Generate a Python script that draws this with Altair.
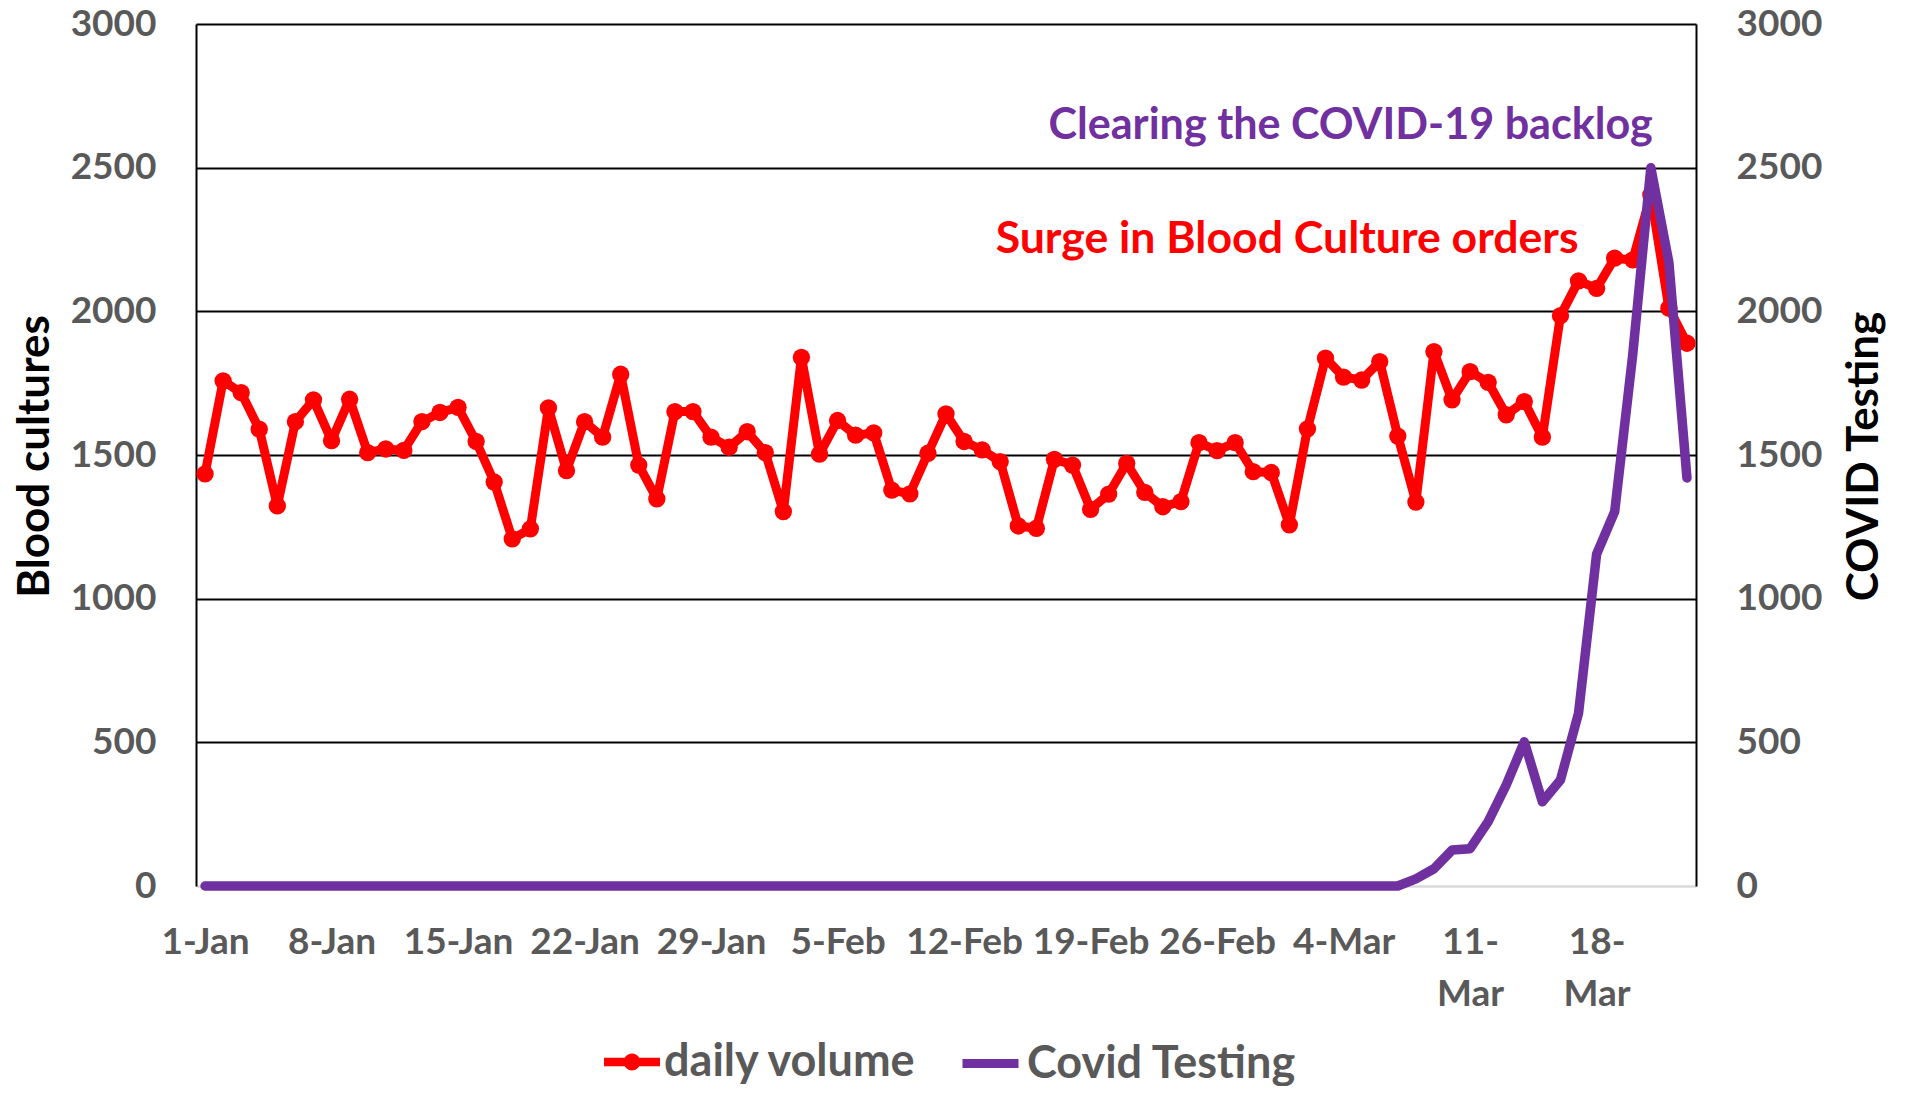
import altair as alt
import pandas as pd

# ---------------- data ----------------
dates = [f"{d.day}-{d.strftime('%b')}" for d in pd.date_range("2020-01-01", "2020-03-23")]

daily_volume = [
    1434, 1758, 1717, 1590, 1323, 1616, 1692, 1550, 1694, 1508,
    1521, 1516, 1616, 1648, 1666, 1547, 1406, 1208, 1243, 1664,
    1446, 1616, 1562, 1781, 1465, 1347, 1651, 1651, 1562, 1527,
    1581, 1508, 1303, 1840, 1503, 1620, 1569, 1577, 1378, 1365,
    1506, 1643, 1547, 1518, 1477, 1253, 1245, 1485, 1465, 1311,
    1364, 1471, 1370, 1320, 1338, 1543, 1515, 1543, 1442, 1439,
    1257, 1591, 1837, 1771, 1761, 1825, 1566, 1336, 1860, 1692,
    1790, 1753, 1640, 1686, 1562, 1985, 2106, 2080, 2185, 2179,
    2405, 2011, 1889,
]

covid_testing = [
    0, 0, 0, 0, 0, 0, 0, 0, 0, 0,
    0, 0, 0, 0, 0, 0, 0, 0, 0, 0,
    0, 0, 0, 0, 0, 0, 0, 0, 0, 0,
    0, 0, 0, 0, 0, 0, 0, 0, 0, 0,
    0, 0, 0, 0, 0, 0, 0, 0, 0, 0,
    0, 0, 0, 0, 0, 0, 0, 0, 0, 0,
    0, 0, 0, 0, 0, 0, 0, 25, 60, 125,
    130, 224, 352, 502, 293, 369, 601, 1155, 1303, 1850,
    2500, 2170, 1420,
]

tick_labels = ["1-Jan", "8-Jan", "15-Jan", "22-Jan", "29-Jan", "5-Feb",
               "12-Feb", "19-Feb", "26-Feb", "4-Mar", "11-Mar", "18-Mar"]
wrapped_labels = ["11-Mar", "18-Mar"]
y_ticks = [0, 500, 1000, 1500, 2000, 2500, 3000]

series_names = ["daily volume", "Covid Testing"]
series_colors = ["#FF0000", "#7030A0"]

annot_text = ["Surge in Blood Culture orders", "Clearing the COVID-19 backlog"]
annot_x = ["17-Mar", "21-Mar"]
annot_y = [2250, 2644]
annot_color = ["#FF0000", "#7030A0"]

df = pd.DataFrame({
    "date": dates,
    "volume": daily_volume,
    "covid": covid_testing,
    "s1": series_names[0],
    "s2": series_names[1],
})
ann = pd.DataFrame({"text": annot_text, "date": annot_x, "y": annot_y, "c": annot_color})

FONT = "Lato"
GRAY = "#595959"
YDOM = [0, 3000]

wrap_list = "[" + ",".join(f"'{w}'" for w in wrapped_labels) + "]"
label_expr = (
    f"indexof({wrap_list}, datum.label) >= 0 ? "
    "[slice(datum.label, 0, indexof(datum.label, '-') + 1), slice(datum.label, indexof(datum.label, '-') + 1)] "
    ": datum.label"
)

x_enc = alt.X(
    "date:O",
    scale=alt.Scale(type="point", padding=0.5, domain=dates),
    axis=alt.Axis(
        values=tick_labels, labelExpr=label_expr, labelAngle=0, labelOverlap=False,
        labelFont=FONT, labelFontSize=37, labelFontWeight="bold", labelColor=GRAY,
        labelPadding=38, labelLineHeight=52, labelBaseline="top",
        ticks=False, grid=False, domainColor="#D9D9D9", domainWidth=2, title=None,
    ),
)

left_axis = alt.Axis(
    values=y_ticks, format="d", grid=True,
    gridColor={"condition": {"test": "datum.value === 0", "value": "#D9D9D9"}, "value": "#000000"},
    gridWidth=2, ticks=False, domainColor="#000000", domainWidth=2,
    labelFont=FONT, labelFontSize=37, labelFontWeight="bold", labelColor=GRAY, labelPadding=40,
    title="Blood cultures", titleFont=FONT, titleFontSize=44, titleFontWeight="bold",
    titleColor="#000000", titleAngle=270, titleX=-161, titleY=432,
    titleAlign="center", titleBaseline="middle",
)
right_axis = alt.Axis(
    orient="right", values=y_ticks, format="d", grid=False, ticks=False,
    domainColor="#000000", domainWidth=2,
    labelFont=FONT, labelFontSize=37, labelFontWeight="bold", labelColor=GRAY, labelPadding=40,
    title="COVID Testing", titleFont=FONT, titleFontSize=44, titleFontWeight="bold",
    titleColor="#000000", titleAngle=270, titleX=168, titleY=432,
    titleAlign="center", titleBaseline="middle",
)

legend_common = dict(
    title=None, labelFont=FONT, labelFontSize=45, labelFontWeight="bold",
    labelColor=GRAY, labelOffset=4, labelLimit=0, padding=0, orient="none",
    symbolSize=3136,
)
dot_path = ("M-1,-0.15 L1,-0.15 L1,0.15 L-1,0.15 Z "
            "M-0.3,0 A0.3,0.3 0 1,1 0.3,0 A0.3,0.3 0 1,1 -0.3,0 Z")

y_left = alt.Y("volume:Q", scale=alt.Scale(domain=YDOM, nice=False), axis=left_axis)
red_color_scale = alt.Scale(domain=[series_names[0]], range=[series_colors[0]])

red_line = alt.Chart(df).mark_line(strokeWidth=9, strokeJoin="round", strokeCap="round").encode(
    x=x_enc,
    y=y_left,
    color=alt.Color("s1:N", scale=red_color_scale, legend=None),
)
red_pts = alt.Chart(df).mark_circle(size=300, opacity=1).encode(
    x=x_enc,
    y=alt.Y("volume:Q", scale=alt.Scale(domain=YDOM, nice=False), axis=None),
    color=alt.Color("s1:N", scale=red_color_scale,
                    legend=alt.Legend(symbolType=dot_path, symbolStrokeWidth=0,
                                      legendX=408, legendY=1010, **legend_common)),
)
purple_line = alt.Chart(df).mark_line(strokeWidth=9.5, strokeJoin="round", strokeCap="round").encode(
    x=x_enc,
    y=alt.Y("covid:Q", scale=alt.Scale(domain=YDOM, nice=False), axis=right_axis),
    color=alt.Color("s2:N", scale=alt.Scale(domain=[series_names[1]], range=[series_colors[1]]),
                    legend=alt.Legend(symbolType="stroke", symbolStrokeWidth=9,
                                      legendX=762, legendY=1007, **legend_common)),
)


def annot_layer(i, size, dx):
    return alt.Chart(ann).transform_filter(
        alt.datum.text == annot_text[i]
    ).mark_text(
        align="right", baseline="middle", font=FONT, fontSize=size, fontWeight="bold", dx=dx
    ).encode(
        x=x_enc,
        y=alt.Y("y:Q", scale=alt.Scale(domain=YDOM, nice=False), axis=None),
        text="text:N",
        color=alt.Color("c:N", scale=None),
    )


annots_red = annot_layer(0, 44.6, 0)
annots_purple = annot_layer(1, 43.1, 2)

chart = alt.layer(red_line, red_pts, purple_line, annots_red, annots_purple).resolve_scale(
    y="independent", color="independent"
).properties(
    width=1500, height=862,
    autosize=alt.AutoSizeParams(type="none"),
    padding={"left": 188, "top": 16, "right": 192, "bottom": 200},
    background="white",
).configure_view(stroke=None)

chart.save("out.html", embed_options={"renderer": "svg", "actions": False})
